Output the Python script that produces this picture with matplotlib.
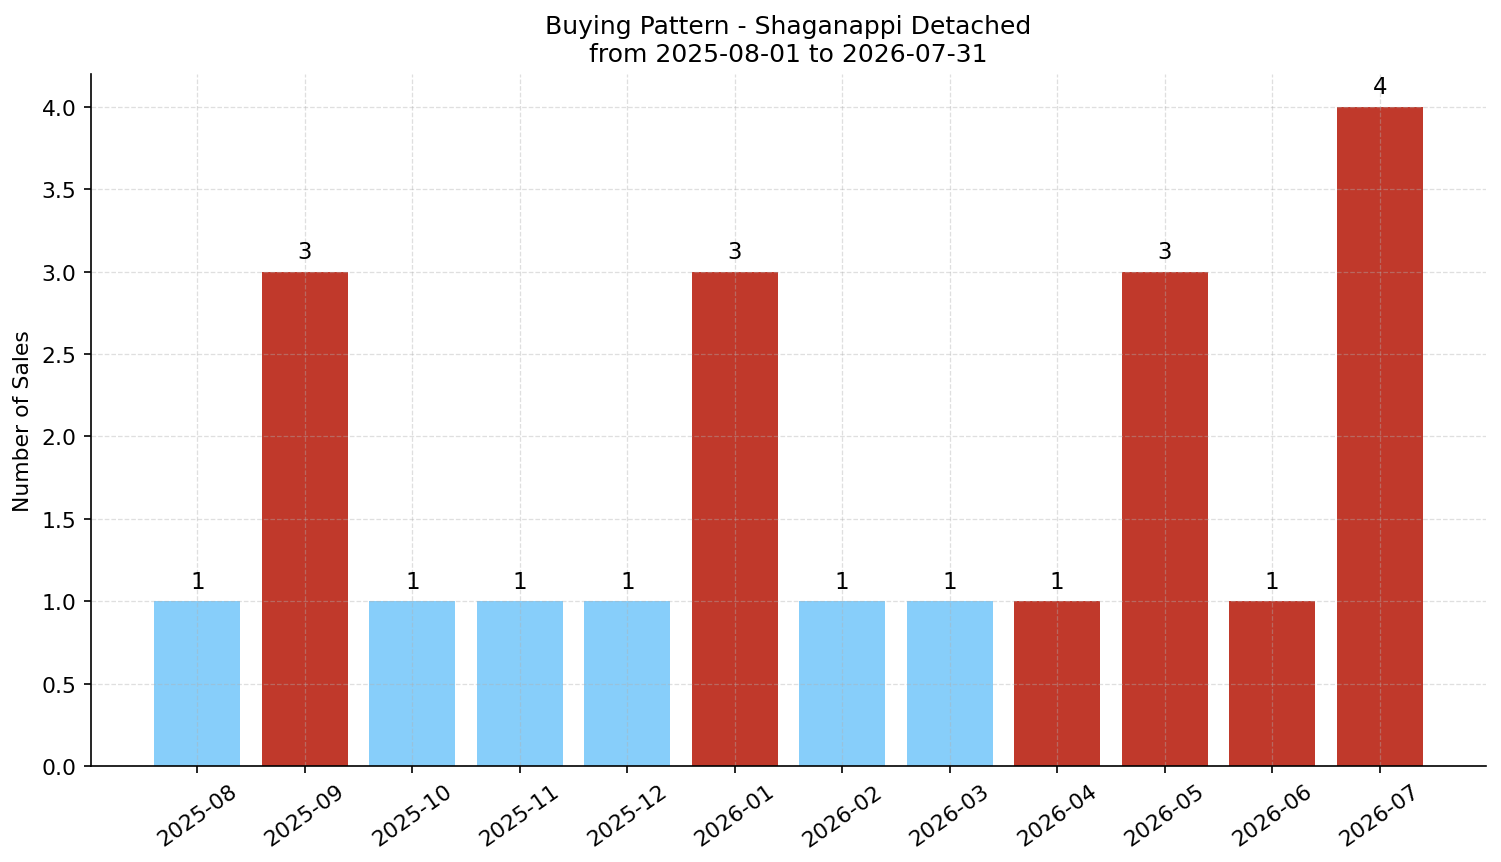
import matplotlib.pyplot as plt

# monthly sales counts
months = ['2025-08', '2025-09', '2025-10', '2025-11', '2025-12', '2026-01',
          '2026-02', '2026-03', '2026-04', '2026-05', '2026-06', '2026-07']
sales = [1, 3, 1, 1, 1, 3, 1, 1, 1, 3, 1, 4]
highlight = [False, True, False, False, False, True,
             False, False, True, True, True, True]

colors = ['#C0392B' if h else '#87CEFA' for h in highlight]

fig = plt.figure(figsize=(10.007, 5.753), dpi=150)
ax = fig.add_axes([0.0606, 0.111, 0.9294, 0.8025])

bars = ax.bar(months, sales, color=colors, width=0.8)
for b, v in zip(bars, sales):
    ax.text(b.get_x() + b.get_width() / 2, v + 0.05, str(v),
            ha='center', va='bottom', fontsize=11)

ax.set_title('Buying Pattern - Shaganappi Detached\nfrom 2025-08-01 to 2026-07-31',
             fontsize=12)
ax.set_ylabel('Number of Sales', fontsize=10.5)
ax.grid(True, linestyle='--', linewidth=0.6, alpha=0.4)
ax.spines['top'].set_visible(False)
ax.spines['right'].set_visible(False)
plt.setp(ax.get_xticklabels(), rotation=35, fontsize=10.5)
plt.setp(ax.get_yticklabels(), fontsize=10.5)

plt.savefig('out.png', dpi=150)
plt.close()
